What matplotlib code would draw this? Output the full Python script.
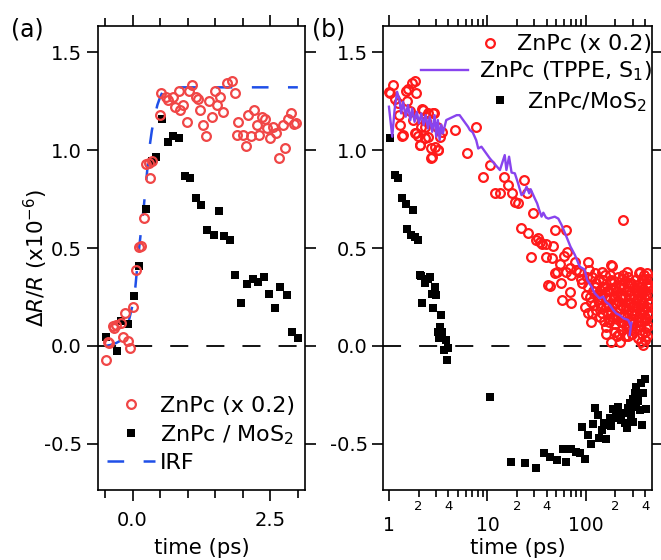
import matplotlib
matplotlib.use('Agg')
import matplotlib.pyplot as plt
from matplotlib.ticker import FixedLocator, FuncFormatter

plt.rcParams['font.family'] = ['DejaVu Sans']
plt.rcParams['mathtext.fontset'] = 'dejavusans'
plt.rcParams['lines.scale_dashes'] = False

# ---------------- data: panel (a) ----------------
a_znpc = [(-0.49, -0.07), (-0.45, 0.02), (-0.43, 0.015), (-0.36, 0.10), (-0.33, 0.09),
          (-0.30, 0.107), (-0.21, 0.118), (-0.18, 0.048), (-0.13, 0.166), (-0.09, 0.025),
          (-0.04, -0.012), (0.0, 0.20), (0.06, 0.39), (0.11, 0.505), (0.16, 0.51),
          (0.20, 0.655), (0.25, 0.93), (0.30, 0.935), (0.32, 0.855), (0.36, 0.945),
          (0.49, 1.18), (0.52, 1.29), (0.60, 1.27), (0.64, 1.255), (0.74, 1.27),
          (0.77, 1.22), (0.86, 1.205), (0.92, 1.23), (0.84, 1.30), (0.98, 1.145),
          (1.07, 1.33), (1.03, 1.30), (1.16, 1.27), (1.19, 1.26), (1.22, 1.205),
          (1.28, 1.13), (1.34, 1.07), (1.39, 1.25), (1.44, 1.17), (1.50, 1.30),
          (1.53, 1.23), (1.59, 1.27), (1.65, 1.195), (1.71, 1.34), (1.80, 1.35),
          (1.86, 1.29), (1.92, 1.145), (1.89, 1.075), (2.01, 1.075), (2.06, 1.02),
          (2.10, 1.18), (2.15, 1.07), (2.21, 1.205), (2.26, 1.13), (2.30, 1.075),
          (2.35, 1.17), (2.41, 1.16), (2.44, 1.11), (2.50, 1.06), (2.55, 1.12),
          (2.61, 1.085), (2.65, 0.957), (2.73, 1.13), (2.77, 1.01), (2.82, 1.16),
          (2.88, 1.19), (2.93, 1.135), (2.97, 1.14)]
a_mos2 = [(-0.49, 0.048), (-0.29, -0.024), (-0.21, 0.13), (-0.08, 0.11), (0.02, 0.255),
          (0.12, 0.41), (0.24, 0.70), (0.35, 0.945), (0.43, 0.962), (0.53, 1.16),
          (0.64, 1.04), (0.74, 1.07), (0.85, 1.06), (0.95, 0.87), (1.05, 0.855),
          (1.15, 0.755), (1.25, 0.72), (1.35, 0.59), (1.47, 0.565), (1.57, 0.69),
          (1.66, 0.56), (1.77, 0.54), (1.86, 0.36), (1.96, 0.22), (2.07, 0.316),
          (2.18, 0.34), (2.28, 0.325), (2.38, 0.35), (2.48, 0.264), (2.59, 0.196),
          (2.68, 0.30), (2.80, 0.26), (2.90, 0.073), (3.00, 0.039)]
irf_t = [-0.5, -0.4, -0.3, -0.2, -0.1, -0.05, 0.0, 0.05, 0.1, 0.15, 0.2, 0.25, 0.3,
         0.35, 0.4, 0.45, 0.5, 0.55, 0.6, 0.7, 0.8, 1.0, 1.5, 2.0, 2.5, 3.0]
irf_y = [0.0, 0.005, 0.015, 0.03, 0.09, 0.15, 0.21, 0.30, 0.45, 0.58, 0.70, 0.85, 1.00,
         1.10, 1.17, 1.23, 1.27, 1.30, 1.31, 1.32, 1.32, 1.32, 1.32, 1.32, 1.32, 1.32]

# ---------------- data: panel (b) ----------------
b_znpc = [(1.0, 1.297), (1.02, 1.29), (1.09, 1.33), (1.15, 1.26), (1.23, 1.24), (1.26, 1.18),
          (1.29, 1.13), (1.35, 1.07), (1.39, 1.077), (1.49, 1.30), (1.57, 1.31), (1.70, 1.34),
          (1.84, 1.35), (1.88, 1.29), (1.51, 1.25), (1.62, 1.20), (1.77, 1.153), (1.84, 1.085),
          (1.87, 1.085), (2.06, 1.026), (2.09, 1.026), (1.98, 1.07), (2.18, 1.207), (2.23, 1.204),
          (2.30, 1.06), (2.32, 1.119), (2.49, 1.187), (2.51, 1.068), (2.69, 1.008), (2.69, 0.957),
          (2.71, 0.966), (2.82, 1.187), (2.90, 1.187), (2.93, 1.017), (3.05, 1.119), (3.14, 1.0),
          (3.17, 1.0), (3.29, 1.068), (3.43, 1.093), (2.61, 1.153), (2.40, 1.15), (2.10, 1.12),
          (4.67, 1.102), (6.15, 0.987), (7.64, 1.119), (8.94, 0.864), (10.6, 0.923),
          (11.9, 0.782), (13.4, 0.779), (14.7, 0.864), (16.3, 0.821), (17.6, 0.779), (19.0, 0.736),
          (20.5, 0.728), (23.5, 0.847), (25.0, 0.779), (21.7, 0.60), (25.9, 0.575), (29.1, 0.677),
          (31.5, 0.541), (33.0, 0.55), (34.5, 0.53), (36.0, 0.52), (39.0, 0.52), (28.0, 0.456),
          (39.8, 0.456), (45.7, 0.447), (46.5, 0.51), (48.3, 0.592), (63.3, 0.592), (43.6, 0.306),
          (41.4, 0.311), (49.0, 0.37), (51.0, 0.38), (54.4, 0.418), (56.0, 0.32), (57.6, 0.235),
          (60.0, 0.46), (63.0, 0.38), (64.0, 0.48), (68.7, 0.396), (71.5, 0.362), (68.7, 0.277),
          (70.0, 0.221), (77.7, 0.43), (80.0, 0.39), (86.0, 0.38), (89.0, 0.34), (92.0, 0.32),
          (97.9, 0.20), (241.0, 0.643),
          (105, 0.43), (108, 0.388), (105, 0.303), (105, 0.166), (110, 0.25), (115, 0.35),
          (114, 0.226), (118, 0.28), (123, 0.371), (128, 0.32), (138, 0.286), (133, 0.235),
          (128, 0.184), (138, 0.15), (120, 0.21), (112, 0.12),
          (150, 0.337), (155, 0.252), (161, 0.20), (167, 0.166), (159, 0.099), (145, 0.38),
          (148, 0.30), (172, 0.28), (178, 0.33), (182, 0.413), (186, 0.408), (182, 0.337),
          (189, 0.286), (196, 0.218), (189, 0.15), (196, 0.073), (182, 0.022), (170, 0.12),
          (165, 0.24), (175, 0.36), (192, 0.25), (198, 0.30), (142, 0.20), (152, 0.13),
          (180, 0.18), (200, 0.11),
          (205, 0.28), (213, 0.23), (220, 0.19), (230, 0.15), (240, 0.12), (220, 0.022),
          (210, 0.35), (225, 0.31), (235, 0.26), (245, 0.30), (250, 0.25), (255, 0.20),
          (260, 0.15), (265, 0.35), (270, 0.10), (275, 0.28), (280, 0.22), (285, 0.17),
          (290, 0.32), (295, 0.06), (300, 0.24), (215, 0.06), (232, 0.08), (248, 0.05),
          (262, 0.38), (240, 0.36), (228, 0.21), (258, 0.10), (278, 0.13), (298, 0.11),
          (314, 0.337), (322, 0.286), (330, 0.24), (340, 0.20), (345, 0.15), (355, 0.379),
          (355, 0.10), (347, 0.374), (360, 0.30), (370, 0.27), (375, 0.32), (380, 0.22),
          (385, 0.18), (390, 0.13), (395, 0.07), (400, 0.03), (380, 0.005), (410, 0.26),
          (415, 0.32), (420, 0.37), (425, 0.30), (428, 0.311), (430, 0.22), (432, 0.16),
          (428, 0.10), (418, 0.05), (310, 0.16), (318, 0.09), (335, 0.04), (365, 0.02),
          (370, 0.34), (398, 0.28), (410, 0.14), (335, 0.28), (305, 0.30), (312, 0.21),
          (390, 0.36), (420, 0.20), (440, 0.166),
          (100, 0.26), (102, 0.35), (116, 0.17), (124, 0.30), (131, 0.26), (135, 0.34),
          (143, 0.25), (147, 0.17), (156, 0.30), (158, 0.36), (163, 0.28), (168, 0.21),
          (174, 0.24), (177, 0.14), (185, 0.20), (193, 0.33), (199, 0.16), (203, 0.22),
          (208, 0.14), (216, 0.30), (222, 0.25), (226, 0.12), (233, 0.34), (238, 0.20),
          (243, 0.16), (252, 0.33), (256, 0.28), (268, 0.22), (272, 0.32), (283, 0.26),
          (288, 0.08), (292, 0.20), (303, 0.14), (308, 0.26), (326, 0.18), (332, 0.31),
          (338, 0.12), (350, 0.26), (352, 0.17), (362, 0.21), (367, 0.13), (372, 0.06),
          (378, 0.29), (388, 0.25), (392, 0.20), (402, 0.15), (405, 0.34), (412, 0.09),
          (436, 0.26), (438, 0.34), (266, 0.05), (205, 0.05), (160, 0.06)]
b_tppe_t = [1.0, 1.08, 1.14, 1.21, 1.28, 1.33, 1.39, 1.48, 1.56, 1.65, 1.72, 1.82, 1.92, 2.02,
            2.13, 2.25, 2.36, 2.49, 2.59, 2.75, 2.91, 3.02, 3.14, 3.27, 3.40, 3.53, 3.82, 4.87,
            5.22, 6.35, 6.64, 7.10, 7.70, 8.07, 8.70, 10.6, 13.4, 15.0, 15.6, 16.6, 17.6, 19.0,
            20.5, 22.2, 23.5, 25.0, 26.6, 27.5, 30.3, 32.0, 33.6, 35.5, 37.0, 39.3, 41.6, 48.3,
            52.5, 56.8, 63.5, 69.8, 77.5, 86.7, 97.0, 103, 114, 123, 138, 150, 159, 175, 189,
            204, 220, 241, 269, 284, 290, 279]
b_tppe_y = [1.221, 1.068, 1.204, 1.297, 1.255, 1.187, 1.246, 1.17, 1.23, 1.153, 1.212, 1.144,
            1.195, 1.136, 1.187, 1.128, 1.178, 1.11, 1.17, 1.093, 1.178, 1.068, 1.153, 1.051,
            1.13, 1.085, 1.153, 1.178, 1.178, 1.119, 1.102, 1.09, 1.05, 1.008, 1.017, 0.957,
            0.898, 0.974, 0.898, 0.966, 0.885, 0.881, 0.83, 0.77, 0.78, 0.813, 0.779, 0.80,
            0.753, 0.728, 0.694, 0.66, 0.68, 0.656, 0.65, 0.66, 0.65, 0.617, 0.558, 0.507,
            0.464, 0.405, 0.39, 0.337, 0.303, 0.269, 0.243, 0.252, 0.226, 0.209, 0.184, 0.166,
            0.158, 0.141, 0.133, 0.107, 0.12, 0.056]
b_mos2 = [(1.02, 1.06), (1.14, 0.872), (1.23, 0.855), (1.35, 0.753), (1.48, 0.724), (1.75, 0.694),
          (1.52, 0.595), (1.69, 0.566), (1.85, 0.558), (1.97, 0.541), (2.05, 0.362), (2.14, 0.357),
          (2.30, 0.32), (2.50, 0.34), (2.61, 0.35), (2.91, 0.303), (2.18, 0.221), (2.75, 0.265),
          (2.98, 0.26), (2.80, 0.192), (3.39, 0.16), (3.27, 0.099), (3.14, 0.073), (3.48, 0.073),
          (3.22, 0.039), (3.76, 0.031), (3.62, -0.02), (3.97, -0.012), (3.91, -0.071),
          (10.6, -0.259), (17.3, -0.59), (23.9, -0.595), (31.0, -0.624), (37.3, -0.548),
          (43.6, -0.568), (51.3, -0.582), (58.9, -0.526), (63.6, -0.593), (71.5, -0.526),
          (80.3, -0.539), (86.6, -0.544), (97.9, -0.577), (92.0, -0.415), (104, -0.454),
          (112, -0.502), (118, -0.398), (125, -0.315), (133, -0.352), (137, -0.471),
          (145, -0.429), (159, -0.476), (152, -0.395), (168, -0.403), (182, -0.41), (175, -0.37),
          (189, -0.323), (204, -0.335), (212, -0.31), (220, -0.36), (239, -0.344), (249, -0.395),
          (259, -0.42), (269, -0.318), (279, -0.292), (298, -0.386), (303, -0.272), (315, -0.241),
          (327, -0.207), (339, -0.28), (353, -0.327), (366, -0.19), (380, -0.24), (396, -0.17),
          (405, -0.323), (375, -0.403), (327, -0.31), (290, -0.35), (230, -0.38), (196, -0.37)]

y_ticks = [-0.5, 0.0, 0.5, 1.0, 1.5]
y_ticklabels = ['-0.5', '0.0', '0.5', '1.0', '1.5']
a_xticks = [0.0, 2.5]
a_xticklabels = ['0.0', '2.5']
a_xminor = [-0.5, 0.5, 1.0, 1.5, 2.0, 3.0]
b_xticks = [1, 10, 100]
b_xticklabels = ['1', '10', '100']
b_xminor = [2, 3, 4, 5, 6, 7, 8, 9, 20, 30, 40, 50, 60, 70, 80, 90, 200, 300, 400]
b_minor_labelled = [2, 4, 20, 40, 200, 400]

RED_A = '#f04646'
RED_B = '#ff1a1a'
BLUE = '#1f4fe8'
PURPLE = '#8844ee'

fig = plt.figure(figsize=(6.61, 5.6), dpi=100)
W, H = 661.0, 560.0
axA = fig.add_axes([98 / W, 70 / H, 207 / W, 464 / H])
axB = fig.add_axes([383 / W, 70 / H, 269 / W, 464 / H])

CIRC = dict(ls='none', marker='o', ms=6.3, mfc='none', mew=1.6)
SQR = dict(ls='none', marker='s', ms=5.6, mfc='k', mec='k', mew=0)

# ---- panel (a) ----
axA.axhline(0, color='k', lw=1.3, dashes=(13, 13), zorder=1)
irf_line, = axA.plot(irf_t, irf_y, color=BLUE, lw=1.8, dashes=(12, 14), zorder=2)
blk_a, = axA.plot([p[0] for p in a_mos2], [p[1] for p in a_mos2], zorder=3, **SQR)
red_a, = axA.plot([p[0] for p in a_znpc], [p[1] for p in a_znpc], mec=RED_A, zorder=4, **CIRC)
axA.set_xlim(-0.628, 3.13)
axA.set_ylim(-0.735, 1.633)
axA.set_xticks(a_xticks, a_xticklabels)
axA.xaxis.set_minor_locator(FixedLocator(a_xminor))
axA.set_yticks(y_ticks, y_ticklabels)
axA.tick_params(axis='both', which='both', direction='out', top=True, right=True, width=1.2)
axA.tick_params(axis='x', which='major', length=8, pad=7, labelsize=14)
axA.tick_params(axis='x', which='minor', length=5.5)
axA.tick_params(axis='y', which='major', length=8, pad=3.6, labelsize=14)
axA.set_xlabel('time (ps)', fontsize=15.3, va='top')
axA.xaxis.set_label_coords(0.5, -0.103)
axA.set_ylabel(r'$\Delta R/R$ (x10$^{-6}$)', fontsize=15.5)
axA.yaxis.set_label_coords(-0.232, 0.5)
axA.legend([red_a, blk_a, irf_line], ['ZnPc (x 0.2)', r'ZnPc / MoS$_2$', 'IRF'],
           loc='upper left', bbox_to_anchor=(0.0435, 0.202), bbox_transform=axA.transAxes,
           frameon=False, fontsize=16, handlelength=2.16, handletextpad=0.23,
           labelspacing=0.3, borderpad=0, borderaxespad=0, numpoints=1)

# ---- panel (b) ----
axB.axhline(0, color='k', lw=1.3, dashes=(13, 13), zorder=1)
blk_b, = axB.plot([p[0] for p in b_mos2], [p[1] for p in b_mos2], zorder=2, **SQR)
red_b, = axB.plot([p[0] for p in b_znpc], [p[1] for p in b_znpc], mec=RED_B, zorder=3, **CIRC)
pur_b, = axB.plot(b_tppe_t, b_tppe_y, color=PURPLE, lw=1.7, zorder=4)
axB.set_xscale('log')
axB.set_xlim(0.87, 470)
axB.set_ylim(-0.735, 1.633)
axB.set_xticks(b_xticks, b_xticklabels)
axB.xaxis.set_minor_locator(FixedLocator(b_xminor))
axB.xaxis.set_minor_formatter(FuncFormatter(
    lambda v, pos: str(int(round(v)))[0] if int(round(v)) in b_minor_labelled else ''))
axB.set_yticks(y_ticks, y_ticklabels)
axB.tick_params(axis='both', which='both', direction='out', top=True, right=True, width=1.2)
axB.tick_params(axis='x', which='major', length=8, pad=11, labelsize=13.5)
axB.tick_params(axis='x', which='minor', length=5, pad=2.5, labelsize=9.5)
axB.tick_params(axis='y', which='major', length=8, pad=3, labelsize=14)
axB.set_xlabel('time (ps)', fontsize=15.3, va='top')
axB.xaxis.set_label_coords(0.5, -0.103)

leg_kw = dict(frameon=False, fontsize=16, borderpad=0, borderaxespad=0, numpoints=1,
              loc='upper right', bbox_transform=axB.transAxes)
l1 = axB.legend([red_b], ['ZnPc (x 0.2)'], bbox_to_anchor=(1.0, 0.982),
                handlelength=1.4, handletextpad=0.5, **leg_kw)
axB.add_artist(l1)
l2 = axB.legend([pur_b], [r'ZnPc (TPPE, S$_1$)'], bbox_to_anchor=(1.0, 0.928),
                handlelength=2.1, handletextpad=0.5, **leg_kw)
axB.add_artist(l2)
axB.legend([blk_b], [r'ZnPc/MoS$_2$'], bbox_to_anchor=(0.981, 0.862),
           handlelength=1.4, handletextpad=0.5, **leg_kw)

for ax in (axA, axB):
    for s in ax.spines.values():
        s.set_linewidth(1.2)

fig.text(11 / W, 1 - 29 / H, '(a)', fontsize=17, ha='left', va='center')
fig.text(312 / W, 1 - 29 / H, '(b)', fontsize=17, ha='left', va='center')

fig.savefig('out.png', dpi=100)
